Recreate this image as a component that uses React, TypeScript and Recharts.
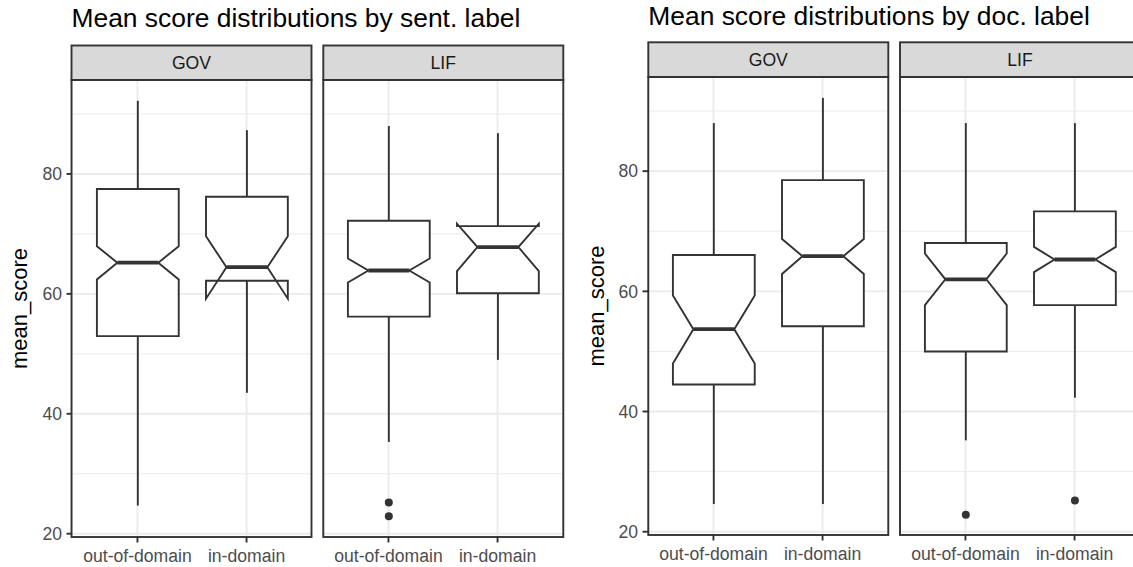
import React from 'react';
import { ComposedChart, Bar, XAxis, YAxis, CartesianGrid } from 'recharts';

// Categories, facets and axis ticks
const categories = ['out-of-domain', 'in-domain'];
const facets = ['GOV', 'LIF'];
const yTicks = [20, 40, 60, 80];
const yMinorTicks = [30, 50, 70, 90];
const yDomain: [number, number] = [19.45, 95.67];

type BoxStats = {
  lower: number;
  q1: number;
  notchLow: number;
  median: number;
  notchHigh: number;
  q3: number;
  upper: number;
  outliers: number[];
};

// Mean score summaries, grouped by sentence label
const sentGov: BoxStats[] = [
  { lower: 24.7, q1: 52.95, notchLow: 62.4, median: 65.2, notchHigh: 67.95, q3: 77.5, upper: 92.2, outliers: [] },
  { lower: 43.5, q1: 62.2, notchLow: 59.2, median: 64.45, notchHigh: 69.6, q3: 76.2, upper: 87.3, outliers: [] },
];
const sentLif: BoxStats[] = [
  { lower: 35.3, q1: 56.2, notchLow: 61.9, median: 63.9, notchHigh: 65.9, q3: 72.2, upper: 88.0, outliers: [25.2, 22.9] },
  { lower: 49.0, q1: 60.1, notchLow: 63.8, median: 67.8, notchHigh: 71.7, q3: 71.3, upper: 86.8, outliers: [] },
];

// Mean score summaries, grouped by document label
const docGov: BoxStats[] = [
  { lower: 24.6, q1: 44.5, notchLow: 48.0, median: 53.7, notchHigh: 59.3, q3: 66.05, upper: 88.0, outliers: [] },
  { lower: 24.6, q1: 54.2, notchLow: 62.9, median: 65.85, notchHigh: 68.7, q3: 78.5, upper: 92.2, outliers: [] },
];
const docLif: BoxStats[] = [
  { lower: 35.2, q1: 50.0, notchLow: 57.7, median: 62.0, notchHigh: 66.3, q3: 68.05, upper: 88.0, outliers: [22.8] },
  { lower: 42.3, q1: 57.7, notchLow: 63.2, median: 65.3, notchHigh: 67.4, q3: 73.3, upper: 88.0, outliers: [25.2] },
];

const INK = '#333333';
const GRID = '#EBEBEB';
const TEXT_GREY = '#4D4D4D';
const PANEL_W = 240;
const AXIS_ROOM = 60;
const X_AXIS_H = 40;

const toRows = (stats: BoxStats[]) =>
  categories.map((category, i) => ({
    category,
    ...stats[i],
    range: [stats[i].lower, stats[i].upper],
  }));

// Notched box in the style of geom_boxplot(notch = TRUE)
const NotchedBox = (props: any) => {
  const { x, y, width, height, payload } = props;
  if (!payload) return null;
  const [lo, hi] = payload.range as [number, number];
  const top = Math.min(y, y + height);
  const bottom = Math.max(y, y + height);
  const px = (v: number) => top + ((hi - v) / (hi - lo)) * (bottom - top);
  const xmin = x;
  const xmax = x + width;
  const cx = x + width / 2;
  const indent = width / 4;
  const pts: [number, number][] = [
    [xmin, px(payload.q3)],
    [xmin, px(payload.notchHigh)],
    [xmin + indent, px(payload.median)],
    [xmin, px(payload.notchLow)],
    [xmin, px(payload.q1)],
    [xmax, px(payload.q1)],
    [xmax, px(payload.notchLow)],
    [xmax - indent, px(payload.median)],
    [xmax, px(payload.notchHigh)],
    [xmax, px(payload.q3)],
  ];
  return (
    <g>
      <line x1={cx} x2={cx} y1={px(payload.q3)} y2={px(payload.upper)} stroke={INK} strokeWidth={1.9} />
      <line x1={cx} x2={cx} y1={px(payload.q1)} y2={px(payload.lower)} stroke={INK} strokeWidth={1.9} />
      <polygon
        points={pts.map((p) => p.join(',')).join(' ')}
        fill="#FFFFFF"
        stroke={INK}
        strokeWidth={1.9}
        strokeLinejoin="miter"
      />
      <line
        x1={xmin + indent}
        x2={xmax - indent}
        y1={px(payload.median)}
        y2={px(payload.median)}
        stroke={INK}
        strokeWidth={3.8}
      />
      {payload.outliers.map((o: number, k: number) => (
        <circle key={k} cx={cx} cy={px(o)} r={4} fill={INK} />
      ))}
    </g>
  );
};

type PanelProps = {
  stats: BoxStats[];
  left: number;
  top: number;
  plotH: number;
  showY: boolean;
};

const Panel = ({ stats, left, top, plotH, showY }: PanelProps) => {
  const data = toRows(stats);
  const unit = PANEL_W / 2.2;
  return (
    <div style={{ position: 'absolute', left: left - AXIS_ROOM, top }}>
      <ComposedChart
        width={AXIS_ROOM + PANEL_W}
        height={plotH + X_AXIS_H}
        data={data}
        margin={{ top: 0, right: 0, bottom: 0, left: showY ? 0 : AXIS_ROOM }}
      >
        <CartesianGrid horizontalValues={yMinorTicks} vertical={false} stroke={GRID} strokeWidth={1} />
        <CartesianGrid horizontalValues={yTicks} stroke={GRID} strokeWidth={1.9} />
        <XAxis
          dataKey="category"
          type="category"
          interval={0}
          height={X_AXIS_H}
          padding={{ left: PANEL_W / 22, right: PANEL_W / 22 }}
          axisLine={false}
          tickLine={{ stroke: INK, strokeWidth: 1.9 }}
          tickSize={5.5}
          tickMargin={6.7}
          tick={{ fill: TEXT_GREY, fontSize: 17.6 }}
        />
        <YAxis
          type="number"
          domain={yDomain}
          allowDataOverflow
          ticks={yTicks}
          hide={!showY}
          width={AXIS_ROOM}
          axisLine={false}
          tickLine={{ stroke: INK, strokeWidth: 1.9 }}
          tickSize={5.5}
          tickMargin={4.4}
          tick={{ fill: TEXT_GREY, fontSize: 17.6 }}
        />
        <Bar dataKey="range" barSize={0.75 * unit} shape={NotchedBox} isAnimationActive={false} />
      </ComposedChart>
    </div>
  );
};

type FigureSpec = {
  title: string;
  titleBaseline: number;
  stripTop: number;
  plotTop: number;
  plotBottom: number;
  panelLefts: number[];
  yLabelX: number;
  groups: BoxStats[][];
};

const figures: FigureSpec[] = [
  {
    title: 'Mean score distributions by sent. label',
    titleBaseline: 27.3,
    stripTop: 45.5,
    plotTop: 80,
    plotBottom: 537,
    panelLefts: [71.5, 323.3],
    yLabelX: 26.5,
    groups: [sentGov, sentLif],
  },
  {
    title: 'Mean score distributions by doc. label',
    titleBaseline: 24.5,
    stripTop: 42.3,
    plotTop: 77,
    plotBottom: 535,
    panelLefts: [648.3, 900],
    yLabelX: 604,
    groups: [docGov, docLif],
  },
];

export default function App() {
  return (
    <div
      style={{
        position: 'fixed',
        left: 0,
        top: 0,
        width: 1133,
        height: 567,
        overflow: 'hidden',
        background: '#FFFFFF',
        fontFamily: "'Liberation Sans', Arial, sans-serif",
      }}
    >
      {figures.map((f, fi) =>
        f.groups.map((g, gi) => (
          <Panel
            key={`${fi}-${gi}`}
            stats={g}
            left={f.panelLefts[gi]}
            top={f.plotTop}
            plotH={f.plotBottom - f.plotTop}
            showY={gi === 0}
          />
        ))
      )}
      <svg
        width={1133}
        height={567}
        style={{ position: 'absolute', left: 0, top: 0, pointerEvents: 'none' }}
      >
        {figures.map((f, fi) => {
          const midY = (f.plotTop + f.plotBottom) / 2;
          return (
            <g key={fi}>
              <text x={f.panelLefts[0]} y={f.titleBaseline} fontSize={26.4} fill="#000000">
                {f.title}
              </text>
              <text
                x={f.yLabelX}
                y={midY}
                fontSize={22}
                fill="#000000"
                textAnchor="middle"
                transform={`rotate(-90 ${f.yLabelX} ${midY})`}
              >
                mean_score
              </text>
              {facets.map((name, k) => {
                const x0 = f.panelLefts[k];
                const stripH = f.plotTop - f.stripTop;
                return (
                  <g key={name}>
                    <rect
                      x={x0}
                      y={f.stripTop}
                      width={PANEL_W}
                      height={stripH}
                      fill="#D9D9D9"
                      stroke={INK}
                      strokeWidth={1.9}
                    />
                    <text
                      x={x0 + PANEL_W / 2}
                      y={f.stripTop + stripH / 2 + 6.2}
                      fontSize={17.6}
                      fill="#1A1A1A"
                      textAnchor="middle"
                    >
                      {name}
                    </text>
                    <rect
                      x={x0}
                      y={f.plotTop}
                      width={PANEL_W}
                      height={f.plotBottom - f.plotTop}
                      fill="none"
                      stroke={INK}
                      strokeWidth={1.9}
                    />
                  </g>
                );
              })}
            </g>
          );
        })}
      </svg>
    </div>
  );
}
